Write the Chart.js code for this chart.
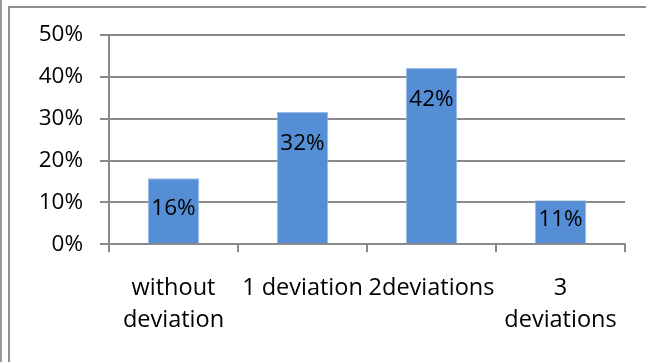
<!DOCTYPE html>
<html>
<head>
<meta charset="utf-8">
<script src="https://cdn.jsdelivr.net/npm/chart.js@4/dist/chart.umd.min.js"></script>
<style>
  html, body { margin: 0; padding: 0; background: #fff; }
  #wrap { position: relative; width: 646px; height: 362px; overflow: hidden; }
  #chart { position: absolute; left: 0; top: 0; }
  .edge { position: absolute; background: #8e8e8e; }
</style>
</head>
<body>
<div id="wrap">
  <canvas id="chart" width="646" height="362"></canvas>
  <div class="edge" style="left:0;top:0;width:2px;height:362px;background:#9a9a9a"></div>
  <div class="edge" style="left:7.5px;top:5.5px;width:2px;height:362px"></div>
  <div class="edge" style="left:7.5px;top:5.5px;width:640px;height:2px"></div>
</div>
<script>
// Share of cases by number of deviations
const categories = [["without", "deviation"], "1 deviation", "2deviations", ["3", "deviations"]];
const shares = [0.158, 0.316, 0.421, 0.105];
const yTicks = [0, 0.1, 0.2, 0.3, 0.4, 0.5];

const FONT = "'Open Sans', 'Noto Sans', sans-serif";
const GRID = '#8a8a8a';
const pct = v => Math.round(v * 100) + '%';

// Percent labels written inside each bar, near its top
const barLabels = {
  id: 'barLabels',
  afterDatasetsDraw(chart) {
    const ctx = chart.ctx;
    const meta = chart.getDatasetMeta(0);
    ctx.save();
    ctx.font = '22.5px ' + FONT;
    ctx.fillStyle = '#000';
    ctx.textAlign = 'center';
    ctx.textBaseline = 'middle';
    meta.data.forEach((bar, i) => {
      const h = bar.base - bar.y;
      const off = Math.min(29, h / 2 - 5) + 2.5;
      ctx.fillText(pct(shares[i]), bar.x, bar.y + off);
    });
    ctx.restore();
  }
};

new Chart(document.getElementById('chart'), {
  type: 'bar',
  data: {
    labels: categories,
    datasets: [{
      data: shares,
      backgroundColor: '#558ed5',
      borderColor: '#9dbde8',
      borderWidth: 1,
      borderSkipped: 'bottom',
      categoryPercentage: 1,
      barPercentage: 0.4
    }]
  },
  options: {
    responsive: false,
    devicePixelRatio: 1,
    animation: false,
    events: [],
    layout: { padding: { top: 35, right: 21, bottom: 0, left: 0 } },
    plugins: { legend: { display: false }, tooltip: { enabled: false } },
    scales: {
      x: {
        afterFit(scale) { scale.height = 117.7; },
        grid: {
          offset: true,
          drawOnChartArea: false,
          drawTicks: true,
          tickLength: 8,
          color: GRID,
          lineWidth: 2
        },
        border: { display: true, color: GRID, width: 2 },
        ticks: {
          autoSkip: false,
          maxRotation: 0,
          minRotation: 0,
          padding: 20,
          color: '#000',
          font: { family: FONT, size: 23.5, lineHeight: '32px' }
        }
      },
      y: {
        min: 0,
        max: 0.5,
        afterFit(scale) { scale.width = 109; },
        afterBuildTicks(scale) { scale.ticks = yTicks.map(v => ({ value: v })); },
        grid: {
          color: GRID,
          lineWidth: 2,
          drawTicks: true,
          tickLength: 9
        },
        border: { display: true, color: GRID, width: 2 },
        ticks: {
          padding: 17,
          color: '#000',
          font: { family: FONT, size: 22.5 },
          callback: v => pct(v)
        }
      }
    }
  },
  plugins: [barLabels]
});
</script>
</body>
</html>
